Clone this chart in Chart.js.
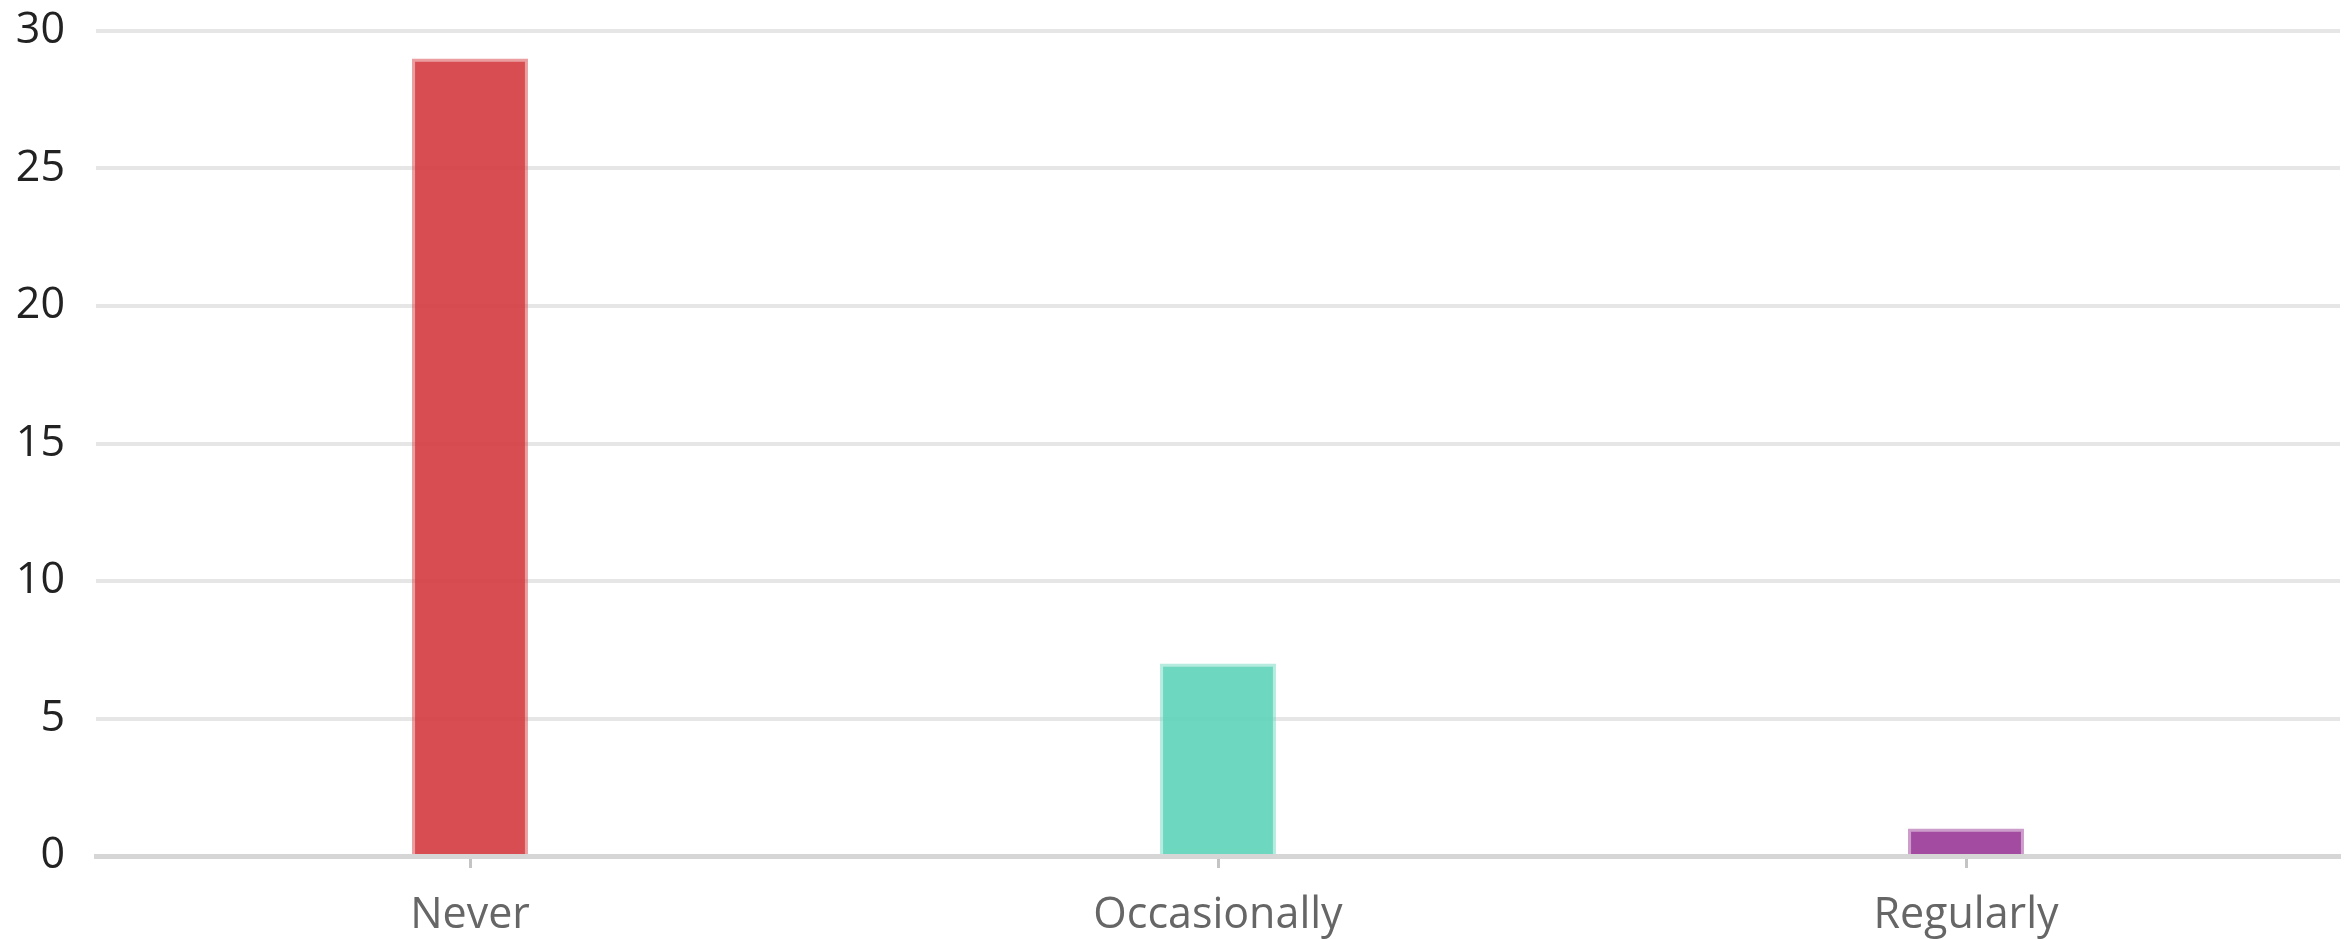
<!DOCTYPE html>
<html>
<head>
<meta charset="utf-8">
<script src="https://cdn.jsdelivr.net/npm/chart.js@4"></script>
<style>
  html, body { margin: 0; padding: 0; background: #fff; }
  #wrap { width: 2351px; height: 939px; }
</style>
</head>
<body>
<div id="wrap"><canvas id="chart"></canvas></div>
<script>
// values
const categories = ["Never", "Occasionally", "Regularly"];
const counts = [29, 7, 1];
const yTicks = [0, 5, 10, 15, 20, 25, 30];

// slightly see-through, the grid shows faintly behind the bars
const fills = ["rgba(212, 58, 62, 0.9)", "rgba(93, 211, 185, 0.9)", "rgba(153, 55, 151, 0.9)"];
const edges = ["rgba(216, 78, 81, 0.55)", "rgba(109, 215, 192, 0.5)", "rgba(163, 75, 161, 0.55)"];

const FONT = "'Open Sans', 'Noto Sans', sans-serif";

const ctx = document.getElementById("chart").getContext("2d");

new Chart(ctx, {
    type: "bar",
    data: {
        labels: categories,
        datasets: [{
            data: counts,
            backgroundColor: fills,
            borderColor: edges,
            borderWidth: {left: 3, right: 3, top: 3, bottom: 0},
            categoryPercentage: 1.0,
            barPercentage: 0.155,
        }],
    },
    options: {
        responsive: true,
        maintainAspectRatio: false,
        animation: false,
        layout: {padding: {top: 31, right: 11, left: 0, bottom: 0}},
        plugins: {
            legend: {display: false},
            tooltip: {enabled: false},
        },
        scales: {
            x: {
                grid: {
                    display: true,
                    drawOnChartArea: false,
                    drawTicks: true,
                    offset: false,
                    tickLength: 12,
                    tickWidth: 3,
                    tickColor: "#c4c4c4",
                },
                border: {display: true, color: "#d6d6d6", width: 5},
                ticks: {
                    color: "#666",
                    padding: 22,
                    font: {family: FONT, size: 43},
                },
                afterFit: (scale) => { scale.height = 83; },
            },
            y: {
                min: 0,
                max: 30,
                afterBuildTicks: (scale) => {
                    scale.ticks = yTicks.map(v => ({value: v}));
                },
                grid: {
                    color: "#e6e6e6",
                    lineWidth: 4,
                    drawTicks: false,
                },
                border: {display: false},
                ticks: {
                    color: "#222",
                    padding: 31,
                    font: {family: FONT, size: 43},
                },
                afterFit: (scale) => {
                    scale.width = 96;
                    // tick padding is also added above/below the axis; drop it
                    scale.paddingTop = 0;
                    scale.paddingBottom = 0;
                },
            },
        },
    },
});
</script>
</body>
</html>
